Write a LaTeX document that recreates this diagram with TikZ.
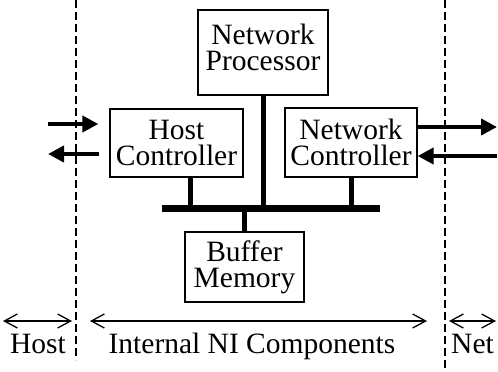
\documentclass[tikz,border=0pt]{standalone}
\usepackage{fontspec}
\setmainfont{Liberation Serif}
\usetikzlibrary{arrows.meta}
\begin{document}
\begin{tikzpicture}[x=1pt,y=-1pt,
 box/.style={draw,line width=1.3pt,inner sep=0pt,align=center,font=\fontsize{29.5}{26}\selectfont},
 lbl/.style={font=\fontsize{29.5}{26}\selectfont,anchor=base,inner sep=0pt},
 divider/.style={line width=1.1pt,dash pattern=on 8pt off 4pt},
 stem/.style={line width=5pt},
 busline/.style={line width=7pt},
 io/.style={line width=4pt,-{Triangle[length=16pt,width=16pt]}},
 span/.style={line width=1.3pt,{Straight Barb[length=13pt,width=14pt]}-{Straight Barb[length=13pt,width=14pt]}}]
\useasboundingbox (0,0) rectangle (498,372);
% dividers
\coordinate (dl1) at (76,0); \coordinate (dl2) at (76,360);
\coordinate (dr1) at (445,0); \coordinate (dr2) at (445,372);
\draw[divider] (dl1) -- (dl2);
\draw[divider] (dr1) -- (dr2);
% boxes
\node[box,minimum width=130pt,minimum height=85pt,text depth=10pt] (np) at (263,52.5) {Network\\Processor};
\node[box,minimum width=133pt,minimum height=68pt] (hc) at (176.5,143) {Host\\Controller};
\node[box,minimum width=132pt,minimum height=69pt] (nc) at (351,142.5) {Network\\Controller};
\node[box,minimum width=119pt,minimum height=70pt] (bm) at (244.5,267) {Buffer\\Memory};
% bus
\coordinate (busL) at (162,208.5); \coordinate (busR) at (380,208.5);
\draw[busline] (busL) -- (busR);
\draw[stem] (np.south) -- (np.south |- busL);
\draw[stem] ([xshift=13.5pt]hc.south) -- ([xshift=13.5pt]hc.south |- busL);
\draw[stem] (nc.south) -- (nc.south |- busL);
\draw[stem] (bm.north) -- (bm.north |- busL);
% host side arrows
\coordinate (hin) at (48,124); \coordinate (hout) at (48,154);
\draw[io,shorten >=11pt] (hin) -- (hc.west |- hin);
\draw[io,shorten <=10pt] (hc.west |- hout) -- (hout);
% net side arrows
\coordinate (nout) at (497,127); \coordinate (nin) at (497,156);
\draw[io] (nc.east |- nout) -- (nout);
\draw[io] (nin) -- (nc.east |- nin);
% spans
\coordinate (hostL) at (3,321); \coordinate (hostR) at (72,321);
\coordinate (intL) at (90,321); \coordinate (intR) at (427,321);
\coordinate (netL) at (449,321); \coordinate (netR) at (496,321);
\draw[span] (hostL) -- (hostR);
\draw[span] (intL) -- (intR);
\draw[span] (netL) -- (netR);
% labels
\node[lbl] (hostlbl) at (38,353) {Host};
\node[lbl] (intlbl) at (252,353) {Internal NI Components};
\node[lbl] (netlbl) at (472.5,353) {Net};
\end{tikzpicture}
\end{document}
